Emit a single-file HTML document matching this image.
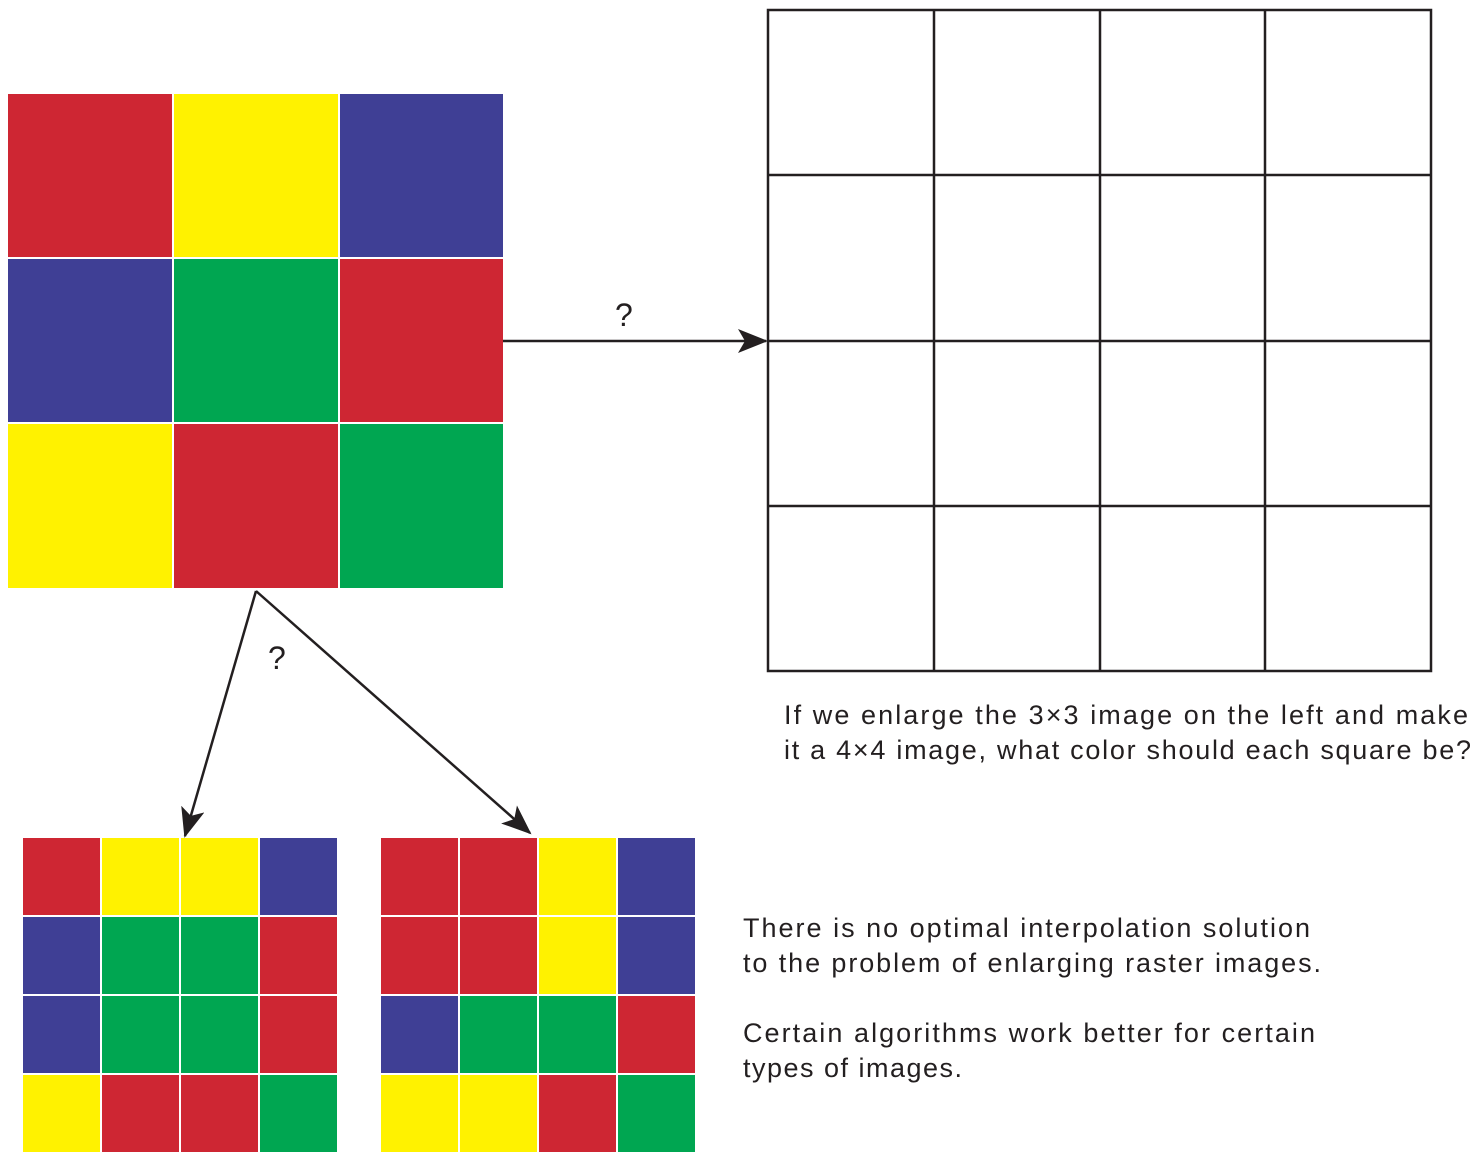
<!DOCTYPE html>
<html><head><meta charset="utf-8"><style>
html,body{margin:0;padding:0;background:#fff;width:1480px;height:1161px;overflow:hidden}
text{font-family:"Liberation Sans",sans-serif;fill:#231f20}
</style></head><body>
<svg width="1480" height="1161" viewBox="0 0 1480 1161" xmlns="http://www.w3.org/2000/svg">
<defs>
<marker id="ah" viewBox="0 0 30 24" refX="28" refY="12" markerWidth="30" markerHeight="24" markerUnits="userSpaceOnUse" orient="auto">
<path d="M0,0 L30,12 L0,24 L7,12 Z" fill="#231f20"/>
</marker>
</defs>
<g>
<rect x="8" y="94" width="164" height="163" fill="#CE2633"/>
<rect x="174" y="94" width="164" height="163" fill="#FFF200"/>
<rect x="340" y="94" width="163" height="163" fill="#3F3F95"/>
<rect x="8" y="259" width="164" height="163" fill="#3F3F95"/>
<rect x="174" y="259" width="164" height="163" fill="#00A651"/>
<rect x="340" y="259" width="163" height="163" fill="#CE2633"/>
<rect x="8" y="424" width="164" height="164" fill="#FFF200"/>
<rect x="174" y="424" width="164" height="164" fill="#CE2633"/>
<rect x="340" y="424" width="163" height="164" fill="#00A651"/>
</g>
<g id="bl"></g>
<g id="br"></g>
<g stroke="#231f20" stroke-width="2.5" fill="none">
<rect x="768" y="10" width="663" height="661"/>
<line x1="934" y1="10" x2="934" y2="671"/>
<line x1="1100" y1="10" x2="1100" y2="671"/>
<line x1="1265" y1="10" x2="1265" y2="671"/>
<line x1="768" y1="175" x2="1431" y2="175"/>
<line x1="768" y1="341" x2="1431" y2="341"/>
<line x1="768" y1="506" x2="1431" y2="506"/>
<line x1="503" y1="341" x2="766" y2="341" marker-end="url(#ah)"/>
<line x1="256" y1="591" x2="185" y2="836" marker-end="url(#ah)"/>
<line x1="256" y1="591" x2="530" y2="833" marker-end="url(#ah)"/>
</g>
<text x="615" y="326" font-size="32">?</text>
<text x="268" y="669" font-size="32">?</text>
<text font-size="27" x="784" y="724" textLength="684" lengthAdjust="spacing">If we enlarge the 3×3 image on the left and make</text>
<text font-size="27" x="784" y="759" textLength="687" lengthAdjust="spacing">it a 4×4 image, what color should each square be?</text>
<text font-size="27" x="743" y="937" textLength="567" lengthAdjust="spacing">There is no optimal interpolation solution</text>
<text font-size="27" x="743" y="972" textLength="578" lengthAdjust="spacing">to the problem of enlarging raster images.</text>
<text font-size="27" x="743" y="1042" textLength="572" lengthAdjust="spacing">Certain algorithms work better for certain</text>
<text font-size="27" x="743" y="1077" textLength="219" lengthAdjust="spacing">types of images.</text>
</svg>
<script>
var C={R:"#CE2633",Y:"#FFF200",B:"#3F3F95",G:"#00A651"};
var NS="http://www.w3.org/2000/svg";
function grid(id,x0,rows){var g=document.getElementById(id);
for(var r=0;r<4;r++)for(var c=0;c<4;c++){var e=document.createElementNS(NS,"rect");
e.setAttribute("x",x0+c*79);e.setAttribute("y",838+r*79);e.setAttribute("width",77);e.setAttribute("height",77);e.setAttribute("fill",C[rows[r][c]]);g.appendChild(e);}}
grid("bl",23,["RYYB","BGGR","BGGR","YRRG"]);
grid("br",381,["RRYB","RRYB","BGGR","YYRG"]);
</script>
</body></html>
